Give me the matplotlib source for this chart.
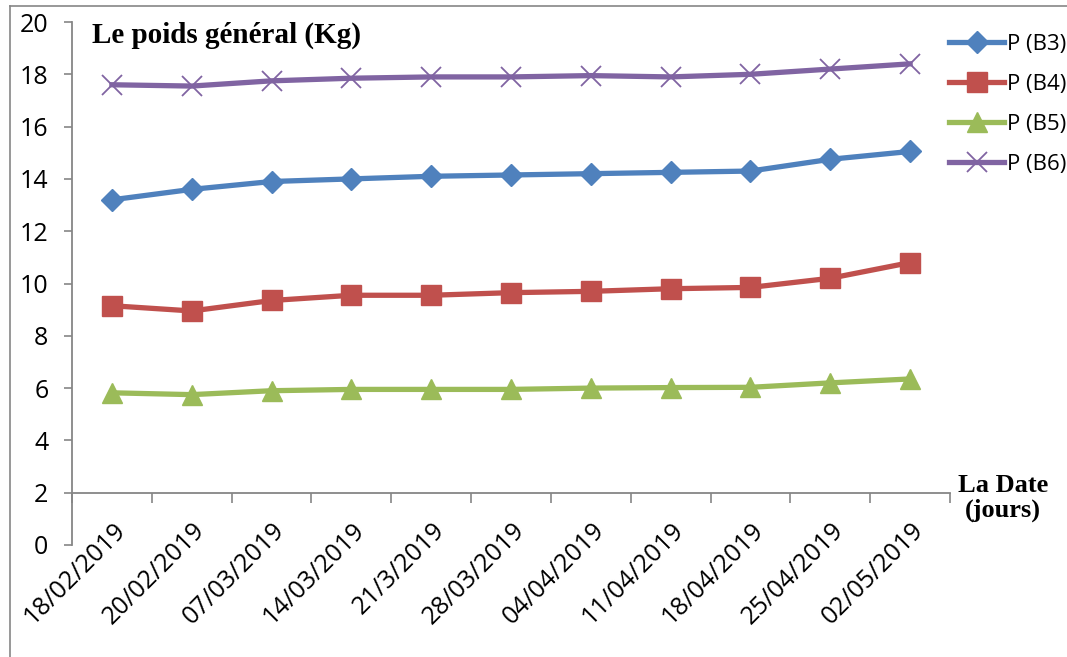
import matplotlib.pyplot as plt
import matplotlib.transforms as mtransforms
from matplotlib.lines import Line2D
import numpy as np

# Data
dates = ['18/02/2019', '20/02/2019', '07/03/2019', '14/03/2019', '21/3/2019',
         '28/03/2019', '04/04/2019', '11/04/2019', '18/04/2019', '25/04/2019',
         '02/05/2019']
p_b3 = [13.2, 13.6, 13.9, 14.0, 14.1, 14.15, 14.2, 14.25, 14.3, 14.75, 15.05]
p_b4 = [9.15, 8.95, 9.35, 9.55, 9.55, 9.65, 9.7, 9.8, 9.85, 10.2, 10.8]
p_b5 = [5.82, 5.75, 5.9, 5.95, 5.95, 5.95, 6.0, 6.02, 6.03, 6.2, 6.35]
p_b6 = [17.6, 17.55, 17.75, 17.85, 17.9, 17.9, 17.95, 17.9, 18.0, 18.2, 18.4]

axis_grey = '#868686'

fig = plt.figure(figsize=(10.67, 6.57), dpi=100)
ax = fig.add_axes([72/1067, 1 - 545/657, (950 - 72)/1067, (545 - 22)/657])

x = np.arange(len(dates))
ax.plot(x, p_b3, color='#4F81BD', lw=3.8, marker='D', markersize=11.5, label='P (B3)')
ax.plot(x, p_b4, color='#C0504D', lw=3.8, marker='s', markersize=14, label='P (B4)')
ax.plot(x, p_b5, color='#9BBB59', lw=3.8, marker='^', markersize=14, label='P (B5)')
ax.plot(x, p_b6, color='#8064A2', lw=3.8, marker='x', markersize=15, markeredgewidth=1.3,
        label='P (B6)')

ax.set_xlim(-0.5, len(dates) - 0.5)
ax.set_ylim(0, 20)

# axes styling, Excel look
for s in ['top', 'right']:
    ax.spines[s].set_visible(False)
ax.spines['bottom'].set_position(('data', 2))
ax.spines['left'].set_bounds(0, 20)
for s in ['bottom', 'left']:
    ax.spines[s].set_color(axis_grey)
    ax.spines[s].set_linewidth(1.3)

ax.set_yticks(range(0, 21, 2))
ax.tick_params(axis='y', length=6, width=1.2, color=axis_grey, pad=11, labelsize=18)
for lab in ax.get_yticklabels():
    lab.set_fontfamily('Open Sans')

ax.set_xticks(x)
ax.set_xticklabels(dates, rotation=45, ha='right', va='top', rotation_mode='anchor',
                   fontsize=18, family='Open Sans')
ax.set_xticks(np.arange(-0.5, len(dates)), minor=True)
ax.tick_params(axis='x', which='major', length=0, pad=18)
ax.tick_params(axis='x', which='minor', length=7, width=1.2, color=axis_grey)
shift = mtransforms.ScaledTranslation(1/100, 0, fig.dpi_scale_trans)
for lab in ax.get_xticklabels():
    lab.set_transform(lab.get_transform() + shift)

# titles
fig.text(92/1067, 1 - 35/657, 'Le poids général (Kg)', family='Liberation Serif',
         fontweight='bold', fontsize=21, va='center', ha='left')
fig.text(1003/1067, 1 - 498/657, 'La Date\n(jours)', family='Liberation Serif',
         fontweight='bold', fontsize=19, va='center', ha='center', linespacing=1.05)

fig.legend(loc='upper left', bbox_to_anchor=(940/1067, 1 - 25/657), frameon=False,
           prop={'family': 'Open Sans', 'size': 16}, handlelength=2.5, handletextpad=0.1,
           labelspacing=0.85, borderaxespad=0)

# outer frame lines
fig.add_artist(Line2D([10/1067, 10/1067], [0, 1 - 6/657], transform=fig.transFigure,
                      color=axis_grey, lw=1.2))
fig.add_artist(Line2D([10/1067, 1], [1 - 6/657, 1 - 6/657], transform=fig.transFigure,
                      color=axis_grey, lw=1.2))

fig.savefig('out.png', dpi=100)
